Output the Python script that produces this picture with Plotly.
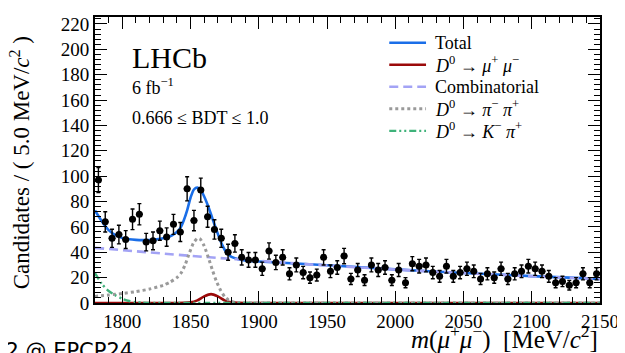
import numpy as np
import plotly.graph_objects as go

# ---------------- data ----------------
bin_centers = [1782.5 + 5 * k for k in range(74)]
counts = [97, 64, 51, 54, 50, 66, 70, 48, 49, 57, 52, 62, 56, 90, 65, 89, 68, 58, 51, 40,
          47, 36, 34, 34, 27, 41, 32, 36, 23, 30, 24, 20, 22, 36, 25, 28, 37, 19, 26, 18,
          30, 26, 28, 18, 26, 16, 31, 29, 30, 24, 21, 29, 21, 24, 27, 25, 19, 23, 20, 27,
          19, 23, 25, 29, 27, 25, 21, 16, 17, 14, 16, 23, 16, 23]

total_x = [1780, 1785, 1790, 1795, 1800, 1805, 1810, 1815, 1820, 1825, 1830, 1835, 1838,
           1841, 1843, 1845, 1847.5, 1850, 1852.5, 1855, 1857.5, 1860, 1862.5, 1865, 1867.5,
           1870, 1872.5, 1875, 1877.5, 1880, 1885, 1890, 1900, 1950, 2000, 2050, 2100, 2150]
total_y = [73, 64.5, 57.5, 53.5, 51.3, 50.3, 49.8, 49.6, 49.7, 50.2, 51, 52.6, 54.4,
           57, 60, 65, 73, 83, 89.5, 91, 89, 84, 77.5, 70, 62,
           54.5, 47.5, 42, 38.5, 36.3, 34.5, 33.5, 32.7, 29.8, 26.5, 23.7, 21.2, 19]

mumu_x = [1780, 1840, 1845, 1850, 1855, 1860, 1865, 1870, 1875, 1880, 1885, 1890, 2150]
mumu_y = [0, 0, 0.1, 0.5, 2.1, 5.2, 7, 5.2, 2.1, 0.5, 0.1, 0, 0]

comb_x = [1780, 1850, 1900, 1950, 2000, 2050, 2100, 2150]
comb_y = [43.5, 37.2, 33.2, 29.6, 26.4, 23.6, 21.1, 18.9]

pipi_x = [1780, 1790, 1800, 1810, 1820, 1830, 1835, 1840, 1843, 1846, 1849, 1852, 1855,
          1857, 1860, 1863, 1866, 1869, 1872, 1875, 1878, 1882, 1886, 1900, 2150]
pipi_y = [5.2, 6.3, 7.5, 9, 11, 14, 16.5, 20, 23.5, 30, 39, 47, 51,
          50.5, 45, 36, 26, 17, 10, 5, 2.2, 0.6, 0, 0, 0]

kpi_x = [1780, 1785, 1790, 1795, 1800, 1805, 1810, 1815, 1820, 1840, 2150]
kpi_y = [23.5, 15, 9.5, 6, 3.3, 1.6, 0.6, 0.2, 0, 0, 0]

x_ticks = [1800, 1850, 1900, 1950, 2000, 2050, 2100, 2150]
y_ticks = [0, 20, 40, 60, 80, 100, 120, 140, 160, 180, 200, 220]

legend_labels = [
    "Total",
    "<i>D</i><sup>0</sup> \u2192 <i>\u03bc</i><sup>+</sup> <i>\u03bc</i><sup>\u2212</sup>",
    "Combinatorial",
    "<i>D</i><sup>0</sup> \u2192 <i>\u03c0</i><sup>\u2212</sup> <i>\u03c0</i><sup>+</sup>",
    "<i>D</i><sup>0</sup> \u2192 <i>K</i><sup>\u2212</sup> <i>\u03c0</i><sup>+</sup>",
]

errors = np.sqrt(np.array(counts, dtype=float))

SERIF = "Liberation Serif, Times New Roman, serif"

styles = [
    dict(color="#1a6ee8", width=2.6),
    dict(color="#9b0a0a", width=2.6),
    dict(color="#a3a3f5", width=2.6, dash="9px,5px"),
    dict(color="#9a9a9a", width=3, dash="3px,3px"),
    dict(color="#3fb27a", width=2.4, dash="7px,3px,2px,3px,2px,3px"),
]

fig = go.Figure()

curves = [(total_x, total_y, 0.8), (mumu_x, mumu_y, 0.6), (comb_x, comb_y, 1.0),
          (pipi_x, pipi_y, 0.6), (kpi_x, kpi_y, 0.6)]
for (cx, cy, sm), st, lab in zip(curves, styles, legend_labels):
    fig.add_trace(go.Scatter(x=cx, y=cy, mode="lines", name=lab, showlegend=False,
                             line=dict(shape="spline", smoothing=sm, **st)))

fig.add_trace(go.Scatter(x=bin_centers, y=counts, mode="markers", showlegend=False,
                         marker=dict(color="black", size=7),
                         error_y=dict(type="data", array=errors, color="black", thickness=1.4, width=2),
                         error_x=dict(type="constant", value=2.5, color="black", thickness=1.4, width=0)))

axis_common = dict(showline=True, linecolor="black", linewidth=1.8, mirror="allticks",
                   ticks="inside", ticklen=12, tickwidth=1.3, tickcolor="black",
                   showgrid=False, zeroline=False,
                   tickfont=dict(family=SERIF, size=19, color="black"))

fig.update_xaxes(range=[1780, 2150], tickvals=x_ticks,
                 minor=dict(dtick=10, tick0=1780, ticks="inside", ticklen=6, tickcolor="black", tickwidth=1.1),
                 **axis_common)
fig.update_yaxes(range=[0, 225.5], tickvals=y_ticks,
                 minor=dict(dtick=4, tick0=0, ticks="inside", ticklen=6, tickcolor="black", tickwidth=1.1),
                 **axis_common)

annotations = [
    dict(text="LHCb", x=0.07, y=0.86, xref="paper", yref="paper", xanchor="left", yanchor="middle",
         showarrow=False, font=dict(family=SERIF, size=30, color="black")),
    dict(text="6 fb<sup>\u22121</sup>", x=0.07, y=0.758, xref="paper", yref="paper", xanchor="left",
         yanchor="middle", showarrow=False, font=dict(family=SERIF, size=18, color="black")),
    dict(text="0.666 \u2264 BDT \u2264 1.0", x=0.07, y=0.647, xref="paper", yref="paper", xanchor="left",
         yanchor="middle", showarrow=False, font=dict(family=SERIF, size=18, color="black")),
    dict(text="Candidates / ( 5.0 MeV/<i>c</i><sup>2</sup> )", x=-0.1476, y=0.49, xref="paper", yref="paper",
         xanchor="center", yanchor="middle", textangle=-90, showarrow=False,
         font=dict(family=SERIF, size=23, color="black")),
    dict(text="<i>m</i>(<i>\u03bc</i><sup>+</sup><i>\u03bc</i><sup>\u2212</sup>)  [MeV/<i>c</i><sup>2</sup>]",
         x=1.0, y=-0.122, xref="paper", yref="paper", xanchor="right", yanchor="middle", showarrow=False,
         font=dict(family=SERIF, size=25, color="black")),
    dict(text="x2 @ EPCP24", x=-0.205, y=-0.118, xref="paper", yref="paper", xanchor="left", yanchor="top",
         showarrow=False, font=dict(family="DejaVu Sans", size=21, color="black")),
]

# hand-made legend (tighter row spacing than plotly's built-in legend)
leg_rows = [0.91, 0.833, 0.756, 0.679, 0.602]
shapes = []
for lab, st, yy in zip(legend_labels, styles, leg_rows):
    shapes.append(dict(type="line", xref="paper", yref="paper", x0=0.5827, x1=0.6555, y0=yy, y1=yy,
                       line=st))
    annotations.append(dict(text=lab, x=0.669, y=yy, xref="paper", yref="paper", xanchor="left",
                            yanchor="middle", showarrow=False,
                            font=dict(family=SERIF, size=18, color="black")))

# the page body has an 8px margin, so the figure is drawn 8px in from the window corner
fig.update_layout(
    width=617, height=345,
    margin=dict(l=87, r=22, t=6, b=50),
    paper_bgcolor="white", plot_bgcolor="white",
    annotations=annotations, shapes=shapes,
    showlegend=False,
)

fig.write_html("out.html")
